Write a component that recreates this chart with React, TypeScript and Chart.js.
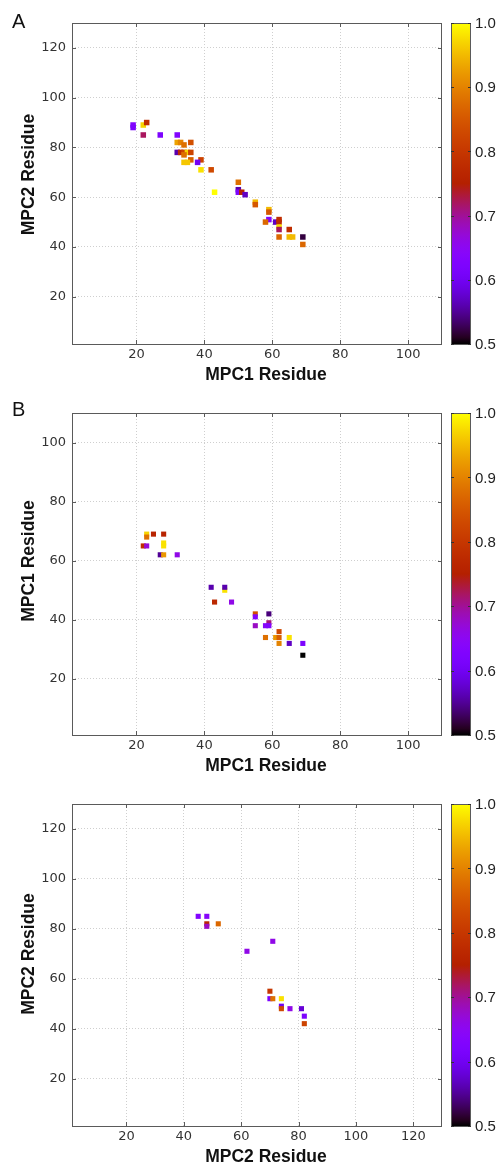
import React, { useEffect, useRef } from 'react';
import { Chart, registerables } from 'chart.js';

Chart.register(...registerables);

// ---------- Data ----------
// Panel A: MPC1 residue (x) vs MPC2 residue (y), coloured by value
const A_X = [19, 19, 22, 23, 22, 27, 32, 32, 33, 34, 36, 32, 33, 34, 35, 36, 34, 36, 39, 34, 35, 38, 39, 42, 43, 50, 50, 50, 51, 52, 55, 55, 59, 59, 59, 58, 61, 62, 62, 62, 62, 65, 62, 65, 66, 69, 69];
const A_Y = [89, 88, 89, 90, 85, 85, 85, 82, 82, 81, 82, 78, 78, 78, 78, 78, 77, 75, 75, 74, 74, 74, 71, 71, 62, 66, 63, 62, 62, 61, 58, 57, 55, 54, 51, 50, 50, 51, 50, 48, 47, 47, 44, 44, 44, 44, 41];
const A_V = [0.63, 0.62, 0.97, 0.78, 0.72, 0.62, 0.63, 0.93, 0.9, 0.88, 0.84, 0.56, 0.78, 0.82, 0.97, 0.82, 0.88, 0.86, 0.82, 0.96, 0.96, 0.6, 0.98, 0.83, 1.0, 0.88, 0.56, 0.62, 0.76, 0.57, 0.95, 0.85, 0.95, 0.85, 0.63, 0.87, 0.57, 0.78, 0.78, 0.98, 0.72, 0.78, 0.87, 0.95, 0.95, 0.52, 0.87];

// Panel B: MPC1 residue (x) vs MPC1 residue (y)
const B_X = [23, 23, 25, 28, 22, 23, 28, 28, 27, 28, 32, 42, 46, 46, 43, 48, 55, 55, 59, 59, 55, 58, 59, 62, 58, 61, 62, 65, 62, 65, 69, 69];
const B_Y = [69, 68, 69, 69, 65, 65, 66, 65, 62, 62, 62, 51, 50, 51, 46, 46, 42, 41, 42, 39, 38, 38, 38, 36, 34, 34, 34, 34, 32, 32, 32, 28];
const B_V = [0.97, 0.88, 0.76, 0.76, 0.78, 0.67, 0.98, 0.98, 0.55, 0.92, 0.66, 0.56, 0.98, 0.56, 0.77, 0.66, 0.84, 0.63, 0.54, 0.71, 0.68, 0.64, 0.63, 0.83, 0.88, 0.92, 0.86, 0.98, 0.9, 0.57, 0.62, 0.5];

// Panel C: MPC2 residue (x) vs MPC2 residue (y)
const C_X = [45, 48, 48, 48, 52, 71, 62, 70, 70, 71, 74, 74, 74, 77, 81, 82, 82];
const C_Y = [85, 85, 82, 81, 82, 75, 71, 55, 52, 52, 52, 49, 48, 48, 48, 45, 42];
const C_V = [0.63, 0.64, 0.77, 0.68, 0.87, 0.66, 0.66, 0.8, 0.62, 0.88, 0.98, 0.6, 0.83, 0.66, 0.58, 0.62, 0.82];

// Ticks
const X_TICKS_AB = [20, 40, 60, 80, 100];
const Y_TICKS_A = [20, 40, 60, 80, 100, 120];
const Y_TICKS_B = [20, 40, 60, 80, 100];
const X_TICKS_C = [20, 40, 60, 80, 100, 120];
const Y_TICKS_C = [20, 40, 60, 80, 100, 120];
const CB_TICKS = [0.5, 0.6, 0.7, 0.8, 0.9, 1.0];
const CB_LABELS = ['0.5', '0.6', '0.7', '0.8', '0.9', '1.0'];
const CB_MIN = 0.5;
const CB_MAX = 1.0;

// ---------- Colour map (gnuplot default pm3d palette) ----------
function colormap(v: number): string {
  let t = (v - CB_MIN) / (CB_MAX - CB_MIN);
  t = Math.max(0, Math.min(1, t));
  const r = Math.sqrt(t);
  const g = t * t * t;
  const b = Math.max(0, Math.sin(2 * Math.PI * t));
  return `rgb(${Math.round(r * 255)},${Math.round(g * 255)},${Math.round(b * 255)})`;
}

const SANS = '"Liberation Sans", Arial, sans-serif';
const TICK_FONT = 'DejaVu Sans';

type PanelCfg = {
  top: number;
  h: number;
  areaTop: number;
  areaBottom: number;
  xMin: number;
  xMax: number;
  yMin: number;
  yMax: number;
  xTicks: number[];
  yTicks: number[];
  xs: number[];
  ys: number[];
  vs: number[];
  xTitle: string;
  yTitle: string;
  yTitleShift: number;
  letter?: string;
  letterY?: number;
  r: number;
};

const PANELS: PanelCfg[] = [
  {
    top: 0, h: 390, areaTop: 23, areaBottom: 344,
    xMin: 1, xMax: 110, yMin: 1, yMax: 130,
    xTicks: X_TICKS_AB, yTicks: Y_TICKS_A,
    xs: A_X, ys: A_Y, vs: A_V,
    xTitle: 'MPC1 Residue', yTitle: 'MPC2 Residue', yTitleShift: -9,
    letter: 'A', letterY: 28, r: 3.9,
  },
  {
    top: 390, h: 385, areaTop: 23, areaBottom: 345,
    xMin: 1, xMax: 110, yMin: 1, yMax: 110,
    xTicks: X_TICKS_AB, yTicks: Y_TICKS_B,
    xs: B_X, ys: B_Y, vs: B_V,
    xTitle: 'MPC1 Residue', yTitle: 'MPC1 Residue', yTitleShift: -13,
    letter: 'B', letterY: 26, r: 3.6,
  },
  {
    top: 775, h: 392, areaTop: 29, areaBottom: 351,
    xMin: 1, xMax: 130, yMin: 1, yMax: 130,
    xTicks: X_TICKS_C, yTicks: Y_TICKS_C,
    xs: C_X, ys: C_Y, vs: C_V,
    xTitle: 'MPC2 Residue', yTitle: 'MPC2 Residue', yTitleShift: -11,
    r: 3.6,
  },
];

function makeDecor(cfg: PanelCfg) {
  return {
    id: 'decor',
    afterDraw(chart: any) {
      const { ctx, chartArea: a, scales } = chart;
      ctx.save();
      // frame
      ctx.strokeStyle = '#5a5a5a';
      ctx.lineWidth = 1;
      ctx.setLineDash([]);
      ctx.strokeRect(a.left + 0.5, a.top + 0.5, a.right - a.left - 1, a.bottom - a.top);
      // inner tick marks
      ctx.beginPath();
      cfg.xTicks.forEach((v) => {
        const px = Math.round(scales.x.getPixelForValue(v)) + 0.5;
        ctx.moveTo(px, a.bottom);
        ctx.lineTo(px, a.bottom - 4);
        ctx.moveTo(px, a.top);
        ctx.lineTo(px, a.top + 4);
      });
      cfg.yTicks.forEach((v) => {
        const py = Math.round(scales.y.getPixelForValue(v)) + 0.5;
        ctx.moveTo(a.left, py);
        ctx.lineTo(a.left + 4, py);
        ctx.moveTo(a.right, py);
        ctx.lineTo(a.right - 4, py);
      });
      ctx.stroke();

      // colour bar
      const cbL = 451;
      const cbW = 19;
      const cbT = a.top;
      const cbH = a.bottom - a.top;
      const grad = ctx.createLinearGradient(0, cbT + cbH, 0, cbT);
      for (let i = 0; i <= 50; i++) {
        const f = i / 50;
        grad.addColorStop(f, colormap(CB_MIN + f * (CB_MAX - CB_MIN)));
      }
      ctx.fillStyle = grad;
      ctx.fillRect(cbL, cbT, cbW, cbH);
      ctx.strokeStyle = '#5a5a5a';
      ctx.strokeRect(cbL + 0.5, cbT + 0.5, cbW, cbH);
      ctx.beginPath();
      ctx.strokeStyle = '#333';
      CB_TICKS.forEach((v) => {
        const py = Math.round(cbT + (1 - (v - CB_MIN) / (CB_MAX - CB_MIN)) * cbH) + 0.5;
        ctx.moveTo(cbL, py);
        ctx.lineTo(cbL + 3, py);
        ctx.moveTo(cbL + cbW + 1, py);
        ctx.lineTo(cbL + cbW - 2, py);
      });
      ctx.stroke();
      ctx.fillStyle = '#222';
      ctx.font = `15px ${SANS}`;
      ctx.textAlign = 'left';
      ctx.textBaseline = 'middle';
      CB_TICKS.forEach((v, i) => {
        const py = cbT + (1 - (v - CB_MIN) / (CB_MAX - CB_MIN)) * cbH;
        ctx.fillText(CB_LABELS[i], 475, py + 1);
      });

      // axis titles
      ctx.fillStyle = '#111';
      ctx.font = `bold 17.5px ${SANS}`;
      ctx.textAlign = 'center';
      ctx.textBaseline = 'alphabetic';
      ctx.fillText(cfg.xTitle, (a.left + a.right) / 2 + 9, a.bottom + 36);
      ctx.save();
      ctx.translate(34, (a.top + a.bottom) / 2 + cfg.yTitleShift);
      ctx.rotate(-Math.PI / 2);
      ctx.fillText(cfg.yTitle, 0, 0);
      ctx.restore();

      // panel letter
      if (cfg.letter) {
        ctx.font = `20px ${SANS}`;
        ctx.textAlign = 'left';
        ctx.fillStyle = '#111';
        ctx.fillText(cfg.letter, 12, cfg.letterY);
      }
      ctx.restore();
    },
  };
}

function Panel({ cfg }: { cfg: PanelCfg }) {
  const ref = useRef<HTMLCanvasElement>(null);
  useEffect(() => {
    const canvas = ref.current;
    if (!canvas) return;
    const tickOpts = { font: { family: TICK_FONT, size: 13 }, color: '#333', autoSkip: false, maxRotation: 0 };
    const chart = new Chart(canvas, {
      type: 'scatter',
      data: {
        datasets: [
          {
            data: cfg.xs.map((x, i) => ({ x, y: cfg.ys[i] })),
            backgroundColor: cfg.vs.map(colormap),
            borderWidth: 0,
            pointStyle: 'rect',
            pointRadius: cfg.r,
            pointHoverRadius: cfg.r,
          },
        ],
      },
      options: {
        animation: false,
        responsive: false,
        maintainAspectRatio: false,
        events: [],
        layout: { padding: { top: cfg.areaTop, right: 58, left: 0, bottom: 0 } },
        plugins: { legend: { display: false }, tooltip: { enabled: false } },
        scales: {
          x: {
            type: 'linear',
            position: 'bottom',
            min: cfg.xMin,
            max: cfg.xMax,
            afterBuildTicks: (s: any) => {
              s.ticks = cfg.xTicks.map((v) => ({ value: v }));
            },
            afterFit: (s: any) => {
              s.height = cfg.h - cfg.areaBottom;
            },
            grid: { color: '#cfcfcf', lineWidth: 1, drawTicks: false },
            border: { display: false, dash: [1, 2] },
            ticks: { ...tickOpts, padding: 3 },
          },
          y: {
            type: 'linear',
            position: 'left',
            min: cfg.yMin,
            max: cfg.yMax,
            afterBuildTicks: (s: any) => {
              s.ticks = cfg.yTicks.map((v) => ({ value: v }));
            },
            afterFit: (s: any) => {
              s.width = 72;
            },
            grid: { color: '#cfcfcf', lineWidth: 1, drawTicks: false },
            border: { display: false, dash: [1, 2] },
            ticks: { ...tickOpts, padding: 6 },
          },
        },
      } as any,
      plugins: [makeDecor(cfg)],
    });
    return () => chart.destroy();
  }, [cfg]);
  return (
    <canvas
      ref={ref}
      width={500}
      height={cfg.h}
      style={{ position: 'absolute', left: 0, top: cfg.top, width: 500, height: cfg.h }}
    />
  );
}

export default function App() {
  return (
    <div style={{ position: 'absolute', left: 0, top: 0, width: 500, height: 1167, background: '#fff' }}>
      {PANELS.map((p, i) => (
        <Panel key={i} cfg={p} />
      ))}
    </div>
  );
}
